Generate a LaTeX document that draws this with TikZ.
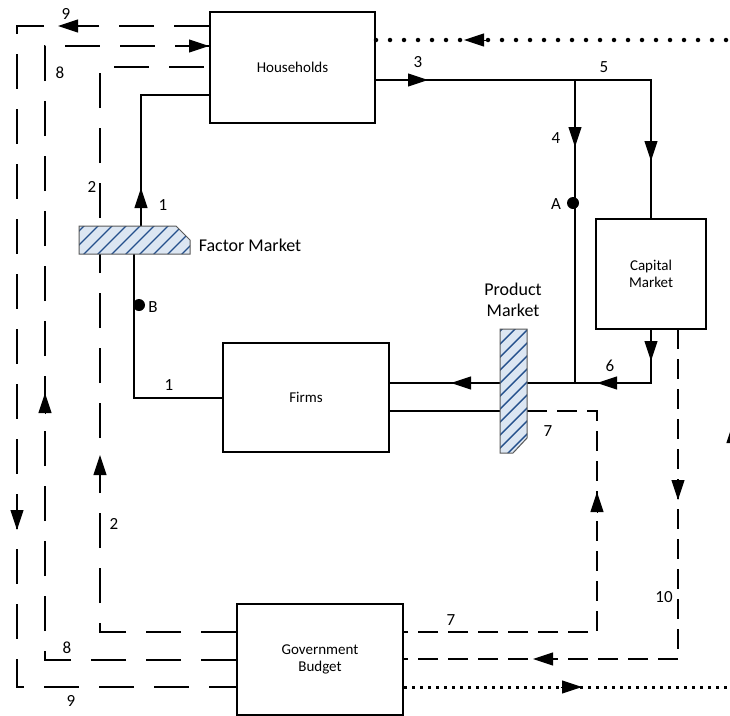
\documentclass[tikz,border=0pt]{standalone}
\usepackage{fontspec}
\setmainfont{Carlito}
\usetikzlibrary{arrows.meta}
\definecolor{hatchbg}{HTML}{DCE6F2}
\definecolor{hatchln}{HTML}{24508C}
\begin{document}
\begin{tikzpicture}[x=1pt,y=-1pt,line width=2pt,
  box/.style={draw,line width=2pt,fill=white,inner sep=0pt,align=center,font=\fontsize{15}{17.5}\selectfont},
  lbl/.style={inner sep=0pt,font=\fontsize{17}{20}\selectfont},
  mlbl/.style={inner sep=0pt,align=center,font=\fontsize{18}{21}\selectfont},
  longdash/.style={dash pattern=on 35pt off 20pt},
  shortdash/.style={dash pattern=on 20pt off 10pt},
  topdots/.style={dash pattern=on 0pt off 14pt,line cap=round,line width=4.5pt},
  botdots/.style={dash pattern=on 3pt off 5pt,line width=3pt},
  tip/.style={-{Triangle[length=20pt,width=13pt]},solid,line width=1pt},
  dot/.style={circle,fill,inner sep=0pt,minimum size=12pt},
  hatchline/.style={hatchln,line width=1.4pt},
  mkborder/.style={draw=black!65,line width=1pt}]
\useasboundingbox (0,0) rectangle (730,715);

% boxes
\node[box,minimum width=165pt,minimum height=111pt] (hh) at (292.5,67.5) {Households};
\node[box,minimum width=166pt,minimum height=109pt] (firms) at (306,397.5) {Firms};
\node[box,minimum width=110pt,minimum height=110pt] (cap) at (651,274) {Capital\\Market};
\node[box,minimum width=166pt,minimum height=111pt] (gov) at (320,659.5) {Government\\Budget};

% market anchor points
\coordinate (fmtop) at (141,226);
\coordinate (fmbot) at (134,254);
\coordinate (pmleft) at (500,383);
\coordinate (pmright) at (527,383);
\coordinate (pmlow) at (527,411);

% line 9
\coordinate (c9a) at (17,26);
\coordinate (c9b) at (17,687);
\draw[longdash] (hh.west|-c9a) -- (c9a) -- (c9b) -- (gov.west|-c9b);
% line 8
\coordinate (c8a) at (45,46);
\coordinate (c8b) at (45,660);
\draw[longdash] (gov.west|-c8b) -- (c8b) -- (c8a) -- (hh.west|-c8a);
% line 2
\coordinate (c2a) at (100,67);
\coordinate (c2b) at (100,632);
\draw[longdash] (gov.west|-c2b) -- (c2b) -- (c2a) -- (hh.west|-c2a);
% line 1
\coordinate (c1a) at (141,95);
\draw (fmtop) -- (c1a) -- (hh.west|-c1a);
\coordinate (c1b) at (134,398);
\draw (fmbot) -- (c1b) -- (firms.west|-c1b);
% line 3 / 5
\coordinate (c3a) at (575,80);
\coordinate (c5a) at (651,80);
\draw (hh.east|-c3a) -- (c5a) -- (cap.north);
% line 4
\coordinate (c4b) at (575,383);
\draw (c3a) -- (c4b);
% line 6
\coordinate (c6a) at (651,383);
\draw (cap.south) -- (c6a) -- (pmright);
% product to firms
\draw (pmleft) -- (firms.east|-pmleft);
\coordinate (c7s) at (512,411);
\draw (firms.east|-c7s) -- (c7s);
% line 7
\coordinate (c7a) at (597,411);
\coordinate (c7b) at (597,632);
\draw[shortdash] (pmlow) -- (c7a) -- (c7b) -- (gov.east|-c7b);
% line 10
\coordinate (c10a) at (678,329);
\coordinate (c10b) at (678,659);
\draw[shortdash] (c10a) -- (c10b) -- (gov.east|-c10b);
% dotted lines
\coordinate (dtop) at (730,40);
\draw[topdots] (hh.east|-dtop) -- (dtop);
\coordinate (dbot) at (730,687);
\draw[botdots] (gov.east|-dbot) -- (dbot);

% arrow heads
\draw[tip] (80,26) -- (58,26);
\draw[tip] (188,46) -- (209,46);
\draw[tip] (141,210) -- (141,188);
\draw[tip] (408,80) -- (428,80);
\draw[tip] (487,40) -- (464,40);
\draw[tip] (575,128) -- (575,147);
\draw[tip] (651,142) -- (651,161);
\draw[tip] (651,342) -- (651,361);
\draw[tip] (618,383) -- (597,383);
\draw[tip] (472,383) -- (451,383);
\draw[tip] (597,512) -- (597,492);
\draw[tip] (678,480) -- (678,500);
\draw[tip] (553,659) -- (533,659);
\draw[tip] (561,687) -- (582,687);
\draw[tip] (45,414) -- (45,393);
\draw[tip] (100,476) -- (100,455);
\draw[tip] (17,509) -- (17,530);
\draw[tip] (733,444) -- (733,423);

% factor market
\fill[hatchbg] (79,226) -- (176,226) -- (190,240) -- (190,254) -- (79,254) -- cycle;
\begin{scope}
  \clip (79,226) -- (176,226) -- (190,240) -- (190,254) -- (79,254) -- cycle;
  \foreach \c in {40,54,...,220} \draw[hatchline] (\c,256) -- ++(42,-42);
\end{scope}
\draw[mkborder] (79,226) -- (176,226) -- (190,240) -- (190,254) -- (79,254) -- cycle;
% product market
\fill[hatchbg] (500,329) -- (527,329) -- (527,438) -- (513,453) -- (500,453) -- cycle;
\begin{scope}
  \clip (500,329) -- (527,329) -- (527,438) -- (513,453) -- (500,453) -- cycle;
  \foreach \c in {350,363,...,540} \draw[hatchline] (\c,455) -- ++(140,-140);
\end{scope}
\draw[mkborder] (500,329) -- (527,329) -- (527,438) -- (513,453) -- (500,453) -- cycle;

% points
\node[dot] (A) at (573,203) {};
\node[dot] (B) at (139,305) {};

% labels
\node[mlbl] (fml) at (250,245) {Factor Market};
\node[mlbl] (pml) at (513,300) {Product\\Market};
\node[lbl] (l9t) at (66,14) {9};
\node[lbl] (l8t) at (60,73) {8};
\node[lbl] (l2t) at (92,187) {2};
\node[lbl] (l1t) at (163,205) {1};
\node[lbl] (lB) at (153,307) {B};
\node[lbl] (l1b) at (169,385) {1};
\node[lbl] (l2b) at (114,524) {2};
\node[lbl] (l8b) at (67,648) {8};
\node[lbl] (l9b) at (71,701) {9};
\node[lbl] (l3) at (418,62) {3};
\node[lbl] (l5) at (604,67) {5};
\node[lbl] (l4) at (556,138) {4};
\node[lbl] (lA) at (556,204) {A};
\node[lbl] (l6) at (610,366) {6};
\node[lbl] (l7r) at (548,431) {7};
\node[lbl] (l7b) at (451,620) {7};
\node[lbl] (l10) at (664,597) {10};
\end{tikzpicture}
\end{document}
